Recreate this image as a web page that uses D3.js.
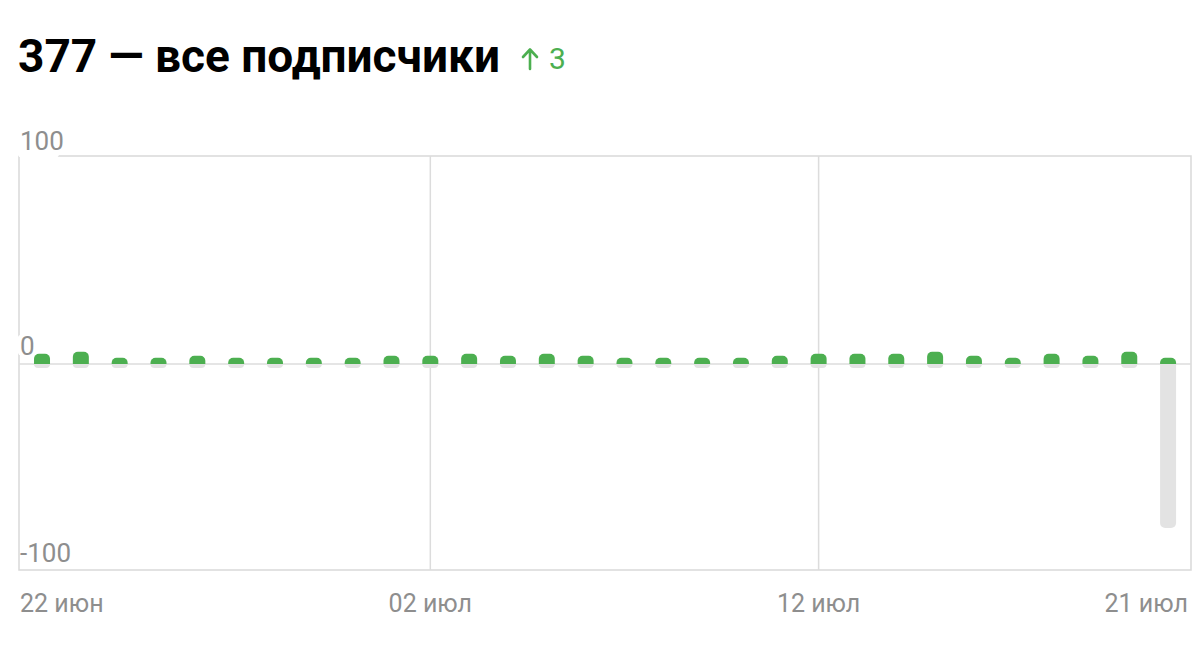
<!DOCTYPE html>
<html>
<head>
<meta charset="utf-8">
<script src="https://cdn.jsdelivr.net/npm/d3@7"></script>
<style>
  body { margin: 0; background: #fff; }
</style>
</head>
<body>
<script>
// дни периода 22 июн – 21 июл
const days = ["22.06","23.06","24.06","25.06","26.06","27.06","28.06","29.06","30.06","01.07",
              "02.07","03.07","04.07","05.07","06.07","07.07","08.07","09.07","10.07","11.07",
              "12.07","13.07","14.07","15.07","16.07","17.07","18.07","19.07","20.07","21.07"];
// подписались
const subscribed = [5,6,3,3,4,3,3,3,3,4, 4,5,4,5,4,3,3,3,3,4, 5,5,5,6,4,3,5,4,6,3];
// отписались
const unsubscribed = [-2,-2,-2,-2,-2,-2,-2,-2,-2,-2, -2,-2,-2,-2,-2,-2,-2,-2,-2,-2, -2,-2,-2,-2,-2,-2,-2,-2,-2,-80];
const yTicks = [100, 0, -100];
const xTicks = [
  {day: "22.06", label: "22 июн"},
  {day: "02.07", label: "02 июл"},
  {day: "12.07", label: "12 июл"},
  {day: "21.07", label: "21 июл"}
];
const total = 377;
const change = 3;

function init(){
  const svg = d3.select("body").append("svg")
    .attr("width", 1200)
    .attr("height", 657);

  const left = 19, right = 1191, top = 156, bottom = 570;

  const x = d3.scaleBand()
    .domain(days)
    .range([22.6, 1187.5])
    .paddingInner(0.588)
    .paddingOuter(0.294);

  const y = d3.scaleLinear()
    .domain([-100, 100])
    .range([569, 159]);

  // title
  svg.append("text")
    .attr("x", 18)
    .attr("y", 72)
    .attr("font-family", "Roboto, sans-serif")
    .attr("font-weight", "bold")
    .attr("font-size", "46px")
    .attr("fill", "#000")
    .text(total + " — все подписчики");

  // arrow up
  svg.append("path")
    .attr("d", "M530,69 V50 M523,57 L530,49.5 L537,57")
    .attr("fill", "none")
    .attr("stroke", "#4caf50")
    .attr("stroke-width", 2.6)
    .attr("stroke-linecap", "round")
    .attr("stroke-linejoin", "round");
  svg.append("text")
    .attr("x", 549)
    .attr("y", 69)
    .attr("font-family", "Roboto, sans-serif")
    .attr("font-size", "30px")
    .attr("fill", "#4caf50")
    .text(change);

  // frame
  svg.append("rect")
    .attr("x", left)
    .attr("y", top)
    .attr("width", right - left)
    .attr("height", bottom - top)
    .attr("fill", "none")
    .attr("stroke", "#d9d9d9")
    .attr("stroke-width", 1.5);

  // vertical grid lines at middle ticks
  svg.selectAll(".vgrid")
    .data(xTicks.slice(1, -1))
    .enter().append("line")
    .attr("x1", d => x(d.day) + x.bandwidth() / 2)
    .attr("x2", d => x(d.day) + x.bandwidth() / 2)
    .attr("y1", top)
    .attr("y2", bottom)
    .attr("stroke", "#dcdcdc")
    .attr("stroke-width", 1.5);

  // zero line
  svg.append("line")
    .attr("x1", left)
    .attr("x2", right)
    .attr("y1", y(0))
    .attr("y2", y(0))
    .attr("stroke", "#dcdcdc")
    .attr("stroke-width", 1.5);

  const bw = x.bandwidth();
  const r = 5;

  // negative bars (rounded bottom)
  svg.selectAll(".neg")
    .data(unsubscribed)
    .enter().append("path")
    .attr("fill", "#e3e3e3")
    .attr("d", (v, i) => {
      const x0 = x(days[i]), y0 = y(0), h = y(v) - y(0);
      const rr = Math.min(r, h);
      return `M${x0},${y0} h${bw} v${h - rr} a${rr},${rr} 0 0 1 ${-rr},${rr} h${-(bw - 2 * rr)} a${rr},${rr} 0 0 1 ${-rr},${-rr} Z`;
    });

  // positive bars (rounded top)
  svg.selectAll(".pos")
    .data(subscribed)
    .enter().append("path")
    .attr("fill", "#4caf50")
    .attr("d", (v, i) => {
      const x0 = x(days[i]), y0 = y(0), h = y(0) - y(v);
      const rr = Math.min(r, h);
      return `M${x0},${y0} v${-(h - rr)} a${rr},${rr} 0 0 1 ${rr},${-rr} h${bw - 2 * rr} a${rr},${rr} 0 0 1 ${rr},${rr} v${h - rr} Z`;
    });

  // y labels with white backgrounds
  const yl = svg.selectAll(".ylab")
    .data(yTicks)
    .enter().append("g");
  yl.append("rect")
    .attr("x", 17)
    .attr("y", d => (d === 100 ? 124 : d === 0 ? 334 : 540))
    .attr("width", d => (d === 0 ? 18 : d === 100 ? 43 : 0))
    .attr("height", d => (d === 0 ? 22 : 34))
    .attr("rx", 6)
    .attr("fill", "#fff");
  yl.append("text")
    .attr("x", 20)
    .attr("y", d => (d === 100 ? y(d) - 9 : d === 0 ? y(d) - 9 : y(d) - 7))
    .attr("font-family", "Roboto, sans-serif")
    .attr("font-size", "26px")
    .attr("fill", "#8e8e8e")
    .text(d => d);

  // x labels
  svg.selectAll(".xlab")
    .data(xTicks)
    .enter().append("text")
    .attr("x", (d, i) => i === 0 ? 20 : i === xTicks.length - 1 ? 1188 : x(d.day) + bw / 2)
    .attr("y", 612)
    .attr("text-anchor", (d, i) => i === 0 ? "start" : i === xTicks.length - 1 ? "end" : "middle")
    .attr("font-family", "Roboto, sans-serif")
    .attr("font-size", "25px")
    .attr("fill", "#8e8e8e")
    .text(d => d.label);
}
init();
</script>
</body>
</html>
